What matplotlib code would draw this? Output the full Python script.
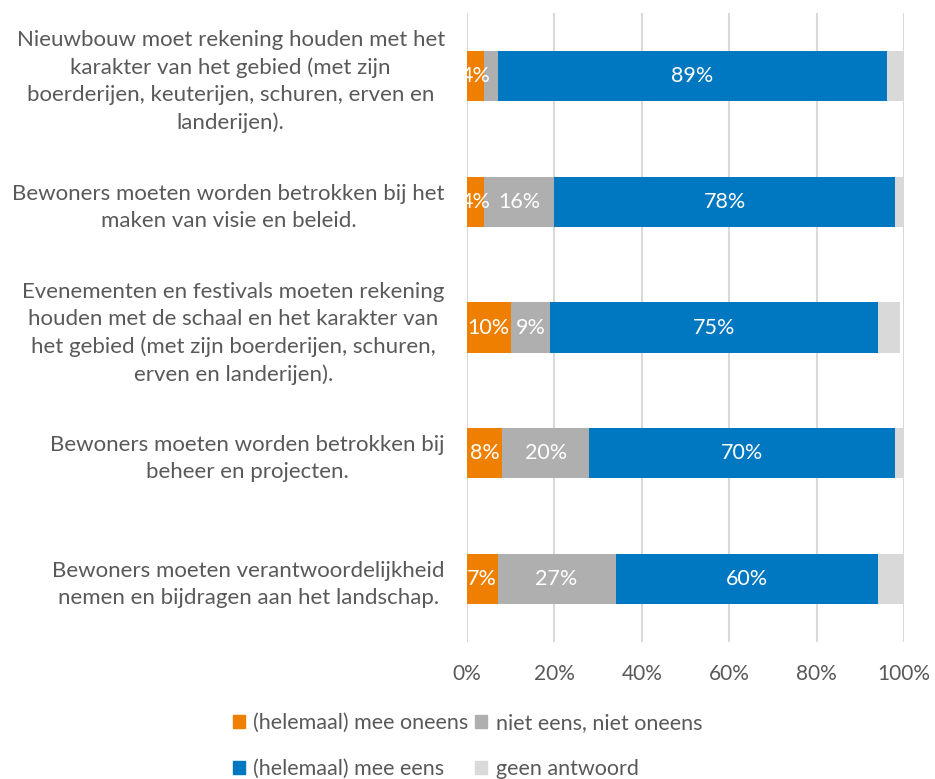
import matplotlib
matplotlib.use("Agg")
import matplotlib.pyplot as plt
from matplotlib.patches import Patch
import numpy as np

plt.rcParams['font.family'] = ['Lato', 'DejaVu Sans']

categories = [
    "Nieuwbouw moet rekening houden met het\nkarakter van het gebied (met zijn\nboerderijen, keuterijen, schuren, erven en\nlanderijen).",
    "Bewoners moeten worden betrokken bij het\nmaken van visie en beleid.",
    "Evenementen en festivals moeten rekening\nhouden met de schaal en het karakter van\nhet gebied (met zijn boerderijen, schuren,\nerven en landerijen).",
    "Bewoners moeten worden betrokken bij\nbeheer en projecten.",
    "Bewoners moeten verantwoordelijkheid\nnemen en bijdragen aan het landschap.",
]
series_names = ["(helemaal) mee oneens", "niet eens, niet oneens",
                "(helemaal) mee eens", "geen antwoord"]
oneens = [4, 4, 10, 8, 7]
neutraal = [3, 16, 9, 20, 27]
eens = [89, 78, 75, 70, 60]
geen = [4, 2, 5, 2, 6]
colors = ["#EF7F00", "#AFAFAF", "#0078C1", "#D9D9D9"]
show_label = [True, True, True, False]
min_label = [0, 4, 0, 100]
tick_labels = ["0%", "20%", "40%", "60%", "80%", "100%"]

fig = plt.figure(figsize=(9.35, 7.79), dpi=100)
ax = fig.add_axes([467/935, 1-642/779, (904-467)/935, (642-13)/779])

y = np.arange(len(categories))
left = np.zeros(len(categories))
for vals, col, name, sl, ml in zip([oneens, neutraal, eens, geen], colors,
                                   series_names, show_label, min_label):
    v = np.array(vals) / 100.0
    ax.barh(y, v, left=left, height=0.4, color=col, label=name, zorder=3)
    if sl:
        for i, (l, w, raw) in enumerate(zip(left, v, vals)):
            if raw >= ml:
                ax.text(l + w/2, y[i], f"{raw}%", ha="center", va="center",
                        color="white", fontsize=15.5, zorder=4)
    left += v

ax.set_xlim(0, 1)
ax.set_ylim(len(categories) - 0.5, -0.5)
ax.set_xticks(np.linspace(0, 1, 6))
ax.set_xticklabels(tick_labels, fontsize=15, color="#595959")
ax.set_yticks(y)
ax.set_yticklabels(categories, fontsize=16, color="#595959",
                   multialignment="center", linespacing=1.45)
ax.tick_params(axis="both", length=0)
ax.tick_params(axis="x", pad=16)
ax.tick_params(axis="y", pad=16)
for s in ax.spines.values():
    s.set_visible(False)
ax.grid(axis="x", color="#D9D9D9", linewidth=1.5, zorder=0)
ax.set_axisbelow(True)

handles = [Patch(color=c) for c in colors]
order = [0, 2, 1, 3]
leg = fig.legend([handles[i] for i in order], [series_names[i] for i in order],
                 ncol=2, loc="center", bbox_to_anchor=(0.5, 1-746/779),
                 frameon=False, fontsize=15.5, handlelength=0.55, handleheight=0.55,
                 handletextpad=0.4, columnspacing=0.3, labelspacing=1.2)
for t in leg.get_texts():
    t.set_color("#595959")

fig.savefig("out.png", dpi=100)
